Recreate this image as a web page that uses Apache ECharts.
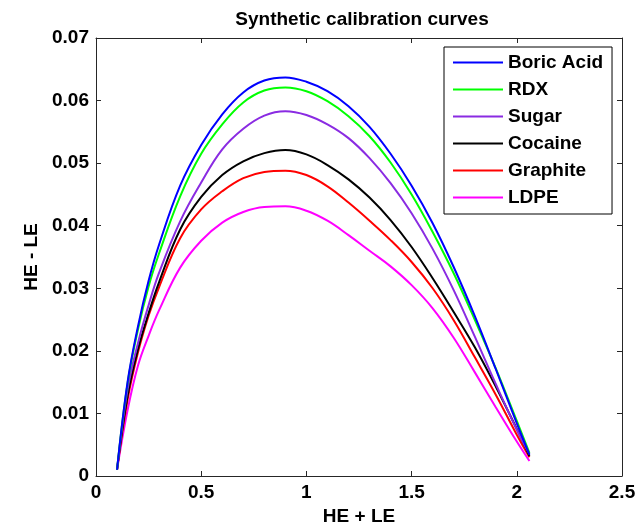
<!DOCTYPE html>
<html>
<head>
<meta charset="utf-8">
<script src="https://cdn.jsdelivr.net/npm/echarts@6/dist/echarts.min.js"></script>
<style>
  html, body { margin: 0; padding: 0; background: #fff; }
  #chart { width: 640px; height: 531px; }
</style>
</head>
<body>
<div id="chart"></div>
<script>
// sample positions along HE + LE
const xs = [0.1, 0.15, 0.2, 0.25, 0.3, 0.4, 0.5, 0.6, 0.7, 0.8, 0.9, 1.0, 1.1, 1.2, 1.3, 1.4, 1.5, 1.6, 1.7, 1.8, 1.9, 2.0, 2.06];

// HE - LE for each material
const boricAcid = [0.001, 0.015, 0.024, 0.0312, 0.037, 0.0464, 0.0529, 0.0578, 0.0613, 0.0632, 0.0637, 0.063, 0.0615, 0.0591, 0.0558, 0.0515, 0.0464, 0.0404, 0.0334, 0.0256, 0.0171, 0.0084, 0.0034];
const rdx = [0.001, 0.0148, 0.0235, 0.0303, 0.0356, 0.0447, 0.0515, 0.0562, 0.0597, 0.0616, 0.0621, 0.0615, 0.0599, 0.0575, 0.0543, 0.0501, 0.045, 0.039, 0.0324, 0.025, 0.0172, 0.0088, 0.0037];
const sugar = [0.001, 0.0138, 0.0213, 0.0273, 0.0325, 0.0407, 0.0469, 0.0522, 0.0555, 0.0576, 0.0583, 0.0577, 0.0562, 0.054, 0.0508, 0.0468, 0.042, 0.0363, 0.0297, 0.0223, 0.0147, 0.0074, 0.0035];
const cocaine = [0.001, 0.0128, 0.0203, 0.026, 0.031, 0.0394, 0.0446, 0.0481, 0.0503, 0.0516, 0.0521, 0.0514, 0.0497, 0.0474, 0.0445, 0.0409, 0.0366, 0.0316, 0.0262, 0.0206, 0.0143, 0.0075, 0.0032];
const graphite = [0.001, 0.0122, 0.0198, 0.0256, 0.0302, 0.038, 0.0426, 0.0455, 0.0476, 0.0486, 0.0488, 0.0481, 0.0463, 0.0437, 0.0408, 0.0377, 0.0342, 0.03, 0.0249, 0.019, 0.013, 0.0066, 0.003];
const ldpe = [0.001, 0.0105, 0.0177, 0.0224, 0.0265, 0.0333, 0.0376, 0.0405, 0.0422, 0.043, 0.0431, 0.0424, 0.0408, 0.0385, 0.036, 0.0335, 0.0305, 0.0268, 0.0221, 0.0166, 0.011, 0.0055, 0.0024];

const names = ["Boric Acid", "RDX", "Sugar", "Cocaine", "Graphite", "LDPE"];
const colors = ["#0000ff", "#00ff00", "#8a2be2", "#000000", "#ff0000", "#ff00ff"];
const values = [boricAcid, rdx, sugar, cocaine, graphite, ldpe];

const font = "Liberation Sans, Arial, sans-serif";

let myChart = echarts.init(document.getElementById("chart"));

let series = names.map((name, i) => ({
  name: name,
  type: "line",
  data: xs.map((x, j) => [x, values[i][j]]),
  smooth: 0.4,
  showSymbol: false,
  lineStyle: { width: 2, color: colors[i] },
  itemStyle: { color: colors[i] },
  z: 10 - i,
}));

// frame axes (box round the plot), ticks pointing inward
function frameAxis(extra) {
  return Object.assign({
    type: "value",
    axisLine: { show: true, onZero: false, lineStyle: { color: "#262626", width: 1 } },
    axisTick: { show: true, inside: true, length: 5, lineStyle: { color: "#262626" } },
    splitLine: { show: false },
    axisLabel: { fontFamily: font, fontSize: 19, fontWeight: "bold", color: "#000", margin: 7 },
  }, extra);
}

const nameStyle = { fontFamily: font, fontSize: 19, fontWeight: "bold", color: "#000" };

myChart.setOption({
  animation: false,
  title: {
    text: "Synthetic calibration curves",
    left: 357,
    textAlign: "center",
    top: 5,
    textStyle: { fontFamily: font, fontSize: 19, fontWeight: "bold", color: "#000" },
  },
  grid: { left: 96, right: 18, top: 38, bottom: 49 },
  legend: {
    data: names,
    orient: "vertical",
    left: 444,
    top: 47,
    padding: [6, 9, 7, 9],
    itemGap: 8,
    itemWidth: 50,
    itemHeight: 2,
    icon: "rect",
    borderColor: "#000",
    borderWidth: 1,
    backgroundColor: "#fff",
    textStyle: { fontFamily: font, fontSize: 19, fontWeight: "bold", color: "#000" },
  },
  xAxis: [
    frameAxis({
      min: 0, max: 2.5, interval: 0.5,
      name: "HE + LE", nameLocation: "middle", nameGap: 31, nameTextStyle: nameStyle,
    }),
    frameAxis({ position: "top", min: 0, max: 2.5, interval: 0.5, axisLabel: { show: false } }),
  ],
  yAxis: [
    frameAxis({
      min: 0, max: 0.07, interval: 0.01,
      name: "HE - LE", nameLocation: "middle", nameGap: 54, nameTextStyle: nameStyle,
    }),
    frameAxis({ position: "right", min: 0, max: 0.07, interval: 0.01, axisLabel: { show: false } }),
  ],
  series: series,
});
</script>
</body>
</html>
